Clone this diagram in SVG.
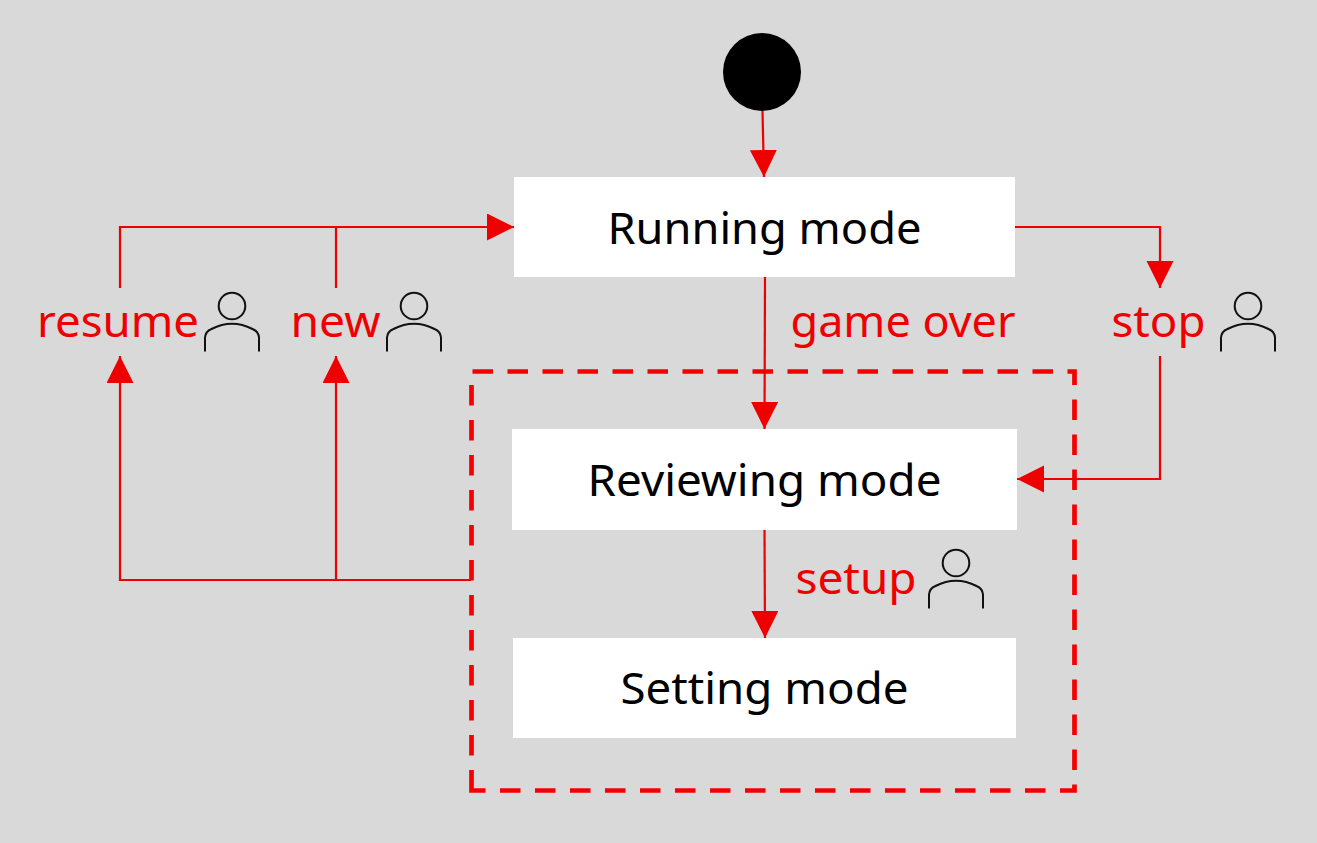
<svg xmlns="http://www.w3.org/2000/svg" width="1317" height="843" viewBox="0 0 1317 843">
<style>
.node{fill:#fff}
.t{font-family:"Noto Sans","Liberation Sans",sans-serif;font-size:43px;text-anchor:middle}
.k{fill:#000}
.r{fill:#ee0000}
.c{fill:none;stroke:#ee0000;stroke-width:2.2}
.p{fill:none;stroke:#111;stroke-width:2}
</style>
<defs>
<marker id="a" markerUnits="userSpaceOnUse" markerWidth="28" markerHeight="28" refX="27" refY="13.5" orient="auto"><path d="M0 0L27 13.5L0 27Z" fill="#ee0000"/></marker>
<g id="person"><circle cx="27.500" cy="13.500" r="13.300" class="p"/><path class="p" d="M0.500 59V45Q1 39 7 36.500Q27.500 26 48 36.500Q54 39 54.500 45V59"/></g>
</defs>
<rect width="1317" height="843" fill="#d9d9d9"/>
<g id="frame"><path d="M471.500 790.500V371.500H1074.500V790.500Z" fill="none" stroke="#f40000" stroke-width="4.700" stroke-dasharray="20.500 14.500"/></g>
<g id="start"><circle cx="762" cy="72" r="39" fill="#000"/></g>
<g id="running"><rect class="node" x="514" y="177" width="501" height="100"/><text class="t k" x="764.500" y="244" textLength="314" lengthAdjust="spacingAndGlyphs">Running mode</text></g>
<g id="reviewing"><rect class="node" x="512" y="429" width="505" height="101"/><text class="t k" x="764.500" y="496" textLength="354" lengthAdjust="spacingAndGlyphs">Reviewing mode</text></g>
<g id="setting"><rect class="node" x="513" y="638" width="503" height="100"/><text class="t k" x="764.500" y="704" textLength="288" lengthAdjust="spacingAndGlyphs">Setting mode</text></g>
<g id="connectors">
<path class="c" marker-end="url(#a)" d="M762.500 111L764 177"/>
<path class="c" marker-end="url(#a)" d="M120 288V227H514"/>
<path class="c" d="M336 288V227"/>
<path class="c" marker-end="url(#a)" d="M1015 227H1160V288"/>
<path class="c" marker-end="url(#a)" d="M765 277L764.500 429"/>
<path class="c" marker-end="url(#a)" d="M1160 356V479H1017"/>
<path class="c" marker-end="url(#a)" d="M764.500 530L765 638"/>
<path class="c" marker-end="url(#a)" d="M471 580H120V356"/>
<path class="c" marker-end="url(#a)" d="M336 580V356"/>
</g>
<g id="label-resume"><text class="t r" x="118" y="337" textLength="162" lengthAdjust="spacingAndGlyphs">resume</text><use href="#person" x="204.500" y="292.500"/></g>
<g id="label-new"><text class="t r" x="335.500" y="337" textLength="90" lengthAdjust="spacingAndGlyphs">new</text><use href="#person" x="386.500" y="292.500"/></g>
<g id="label-stop"><text class="t r" x="1158.500" y="337" textLength="94" lengthAdjust="spacingAndGlyphs">stop</text><use href="#person" x="1220.500" y="292.500"/></g>
<g id="label-gameover"><text class="t r" x="903" y="337" textLength="225" lengthAdjust="spacingAndGlyphs">game over</text></g>
<g id="label-setup"><text class="t r" x="856" y="594" textLength="121" lengthAdjust="spacingAndGlyphs">setup</text><use href="#person" x="928.500" y="549.500"/></g>
</svg>
